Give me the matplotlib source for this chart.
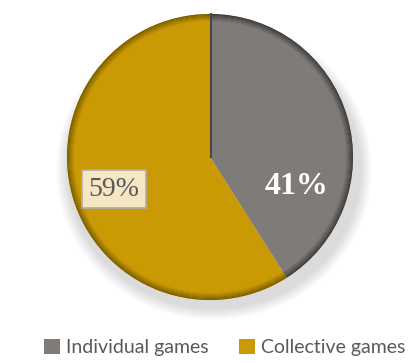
import numpy as np
import matplotlib.pyplot as plt
from matplotlib.colors import to_rgb
from matplotlib.patches import Wedge, Ellipse

labels = ["Individual games", "Collective games"]
shares = [41, 59]
colors = ["#7f7b78", "#c99a04"]
rim_colors = ["#3e3c3b", "#7a5c00"]

W, H = 416, 363
fig = plt.figure(figsize=(W / 100, H / 100), dpi=100)
ax = fig.add_axes([0, 0, 1, 1])

cx, cy, r = 210, H - 157, 143

# soft shadow under the pie
for k in range(12):
    ax.add_patch(Ellipse((cx + 4, cy - 12), 2 * r + 30 - 2 * k, 2 * r + 16 - 2 * k,
                         color="#000000", alpha=0.012, lw=0, zorder=0))

wedges, _ = ax.pie(shares, colors=colors, startangle=90, counterclock=False,
                   center=(cx, cy), radius=r, frame=True,
                   wedgeprops=dict(linewidth=0))
ax.set_xlim(0, W)
ax.set_ylim(0, H)
ax.set_aspect("equal")
ax.axis("off")

# bevel: darker ring near the edge of each slice
for w, base, rim in zip(wedges, colors, rim_colors):
    for i in range(8):
        t = i / 7
        c = np.array(to_rgb(rim)) * (1 - t) + np.array(to_rgb(base)) * t
        ax.add_patch(Wedge((cx, cy), r - i * 1.0, w.theta1, w.theta2,
                           width=1.2, color=c, lw=0, zorder=3))

ax.plot([cx + 1, cx + 1], [cy, cy + r], color="#4a4846", lw=1.5, zorder=4)

serif = ["Liberation Serif", "Times New Roman", "DejaVu Serif"]
ax.text(297, H - 187, f"{shares[0]}%", ha="center", va="center",
        fontsize=23, fontweight="bold", color="white", family=serif, zorder=5)
ax.text(114, H - 189, f"{shares[1]}%", ha="center", va="center",
        fontsize=20, color="#595959", family=serif, zorder=5,
        bbox=dict(boxstyle="square,pad=0.25", fc="#f5e6c4", ec="#b0aca6", lw=1.2))

leg = ax.legend(wedges, labels, loc="lower center", bbox_to_anchor=(0.54, -0.03),
                ncol=2, frameon=False, handlelength=0.8, handleheight=0.8,
                handletextpad=0.3, columnspacing=1.6,
                prop=dict(family=["Lato", "DejaVu Sans"], size=14))
for t in leg.get_texts():
    t.set_color("#595959")

fig.savefig("out.png", dpi=100)
